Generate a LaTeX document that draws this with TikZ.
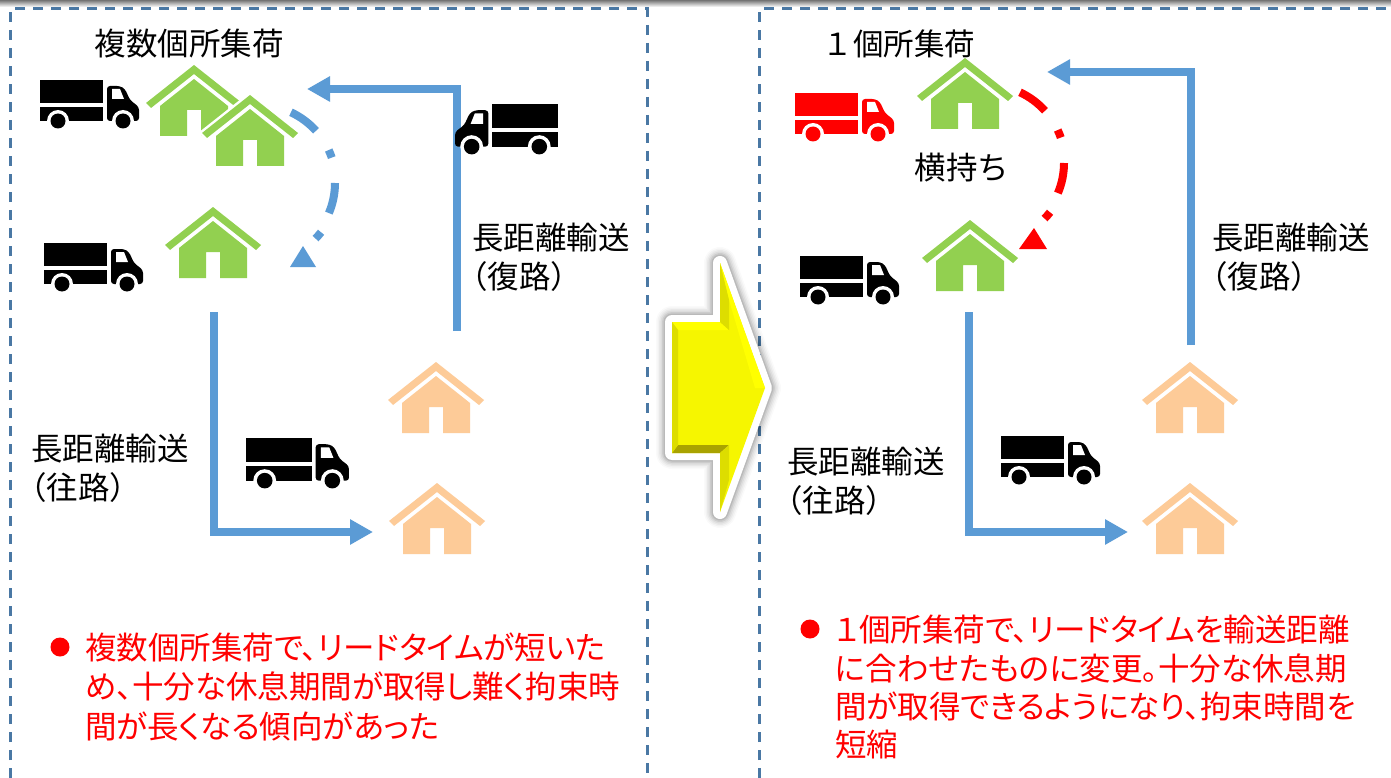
\documentclass[tikz,border=0pt]{standalone}
\usepackage{fontspec}
\setmainfont{Noto Sans CJK JP}
\newfontfamily\propfont[RawFeature=+palt]{Noto Sans CJK JP}
\usetikzlibrary{arrows.meta,calc}
\definecolor{hgreen}{HTML}{92D050}
\definecolor{hpeach}{HTML}{FDCB98}
\definecolor{lblue}{HTML}{5B9BD5}
\definecolor{boxblue}{HTML}{4A78A4}
\definecolor{ayface}{HTML}{F6F600}
\definecolor{aytop}{HTML}{FFFF00}
\definecolor{ayleft}{HTML}{DDDD00}
\definecolor{aybottom}{HTML}{A9A300}
\tikzset{
  x=1pt,y=-1pt,
  framebox/.style={draw=boxblue,line width=3pt,dash pattern=on 10pt off 8pt},
  route/.style={draw=lblue,line width=8pt,-{Triangle[length=23pt,width=24pt]}},
  swing/.style={line width=8pt},
  bigtext/.style={inner sep=0pt,font=\fontsize{31.5}{39}\selectfont,text=black,align=left},
  redtext/.style={inner sep=0pt,anchor=west,font=\propfont\fontsize{31.5}{38}\selectfont,text=red},
  pics/truck/.style={code={
    \fill[#1] (0,0) rectangle (63,23);
    \fill[#1] (0,27) rectangle (63,41);
    \fill[#1,rounded corners=3pt] (67,41) -- (67,6) -- (80,6) -- (85,9) -- (90,20) -- (99,27) -- (99,41) -- cycle;
    \fill[white] (72,9) -- (80,9) -- (84,19) -- (72,19) -- cycle;
    \fill[white] (18,41) circle (11);
    \fill[white] (83,41) circle (11);
    \fill[#1] (18,41) circle (7.5);
    \fill[#1] (83,41) circle (7.5);
  }},
  pics/house/.style={code={
    \fill[#1] (0,0) -- (48,38) -- (43,43) -- (0,9) -- (-43,43) -- (-48,38) -- cycle;
    \fill[#1,even odd rule] (0,14) -- (34,41) -- (34,71) -- (7,71) -- (7,45) -- (-7,45) -- (-7,71) -- (-34,71) -- (-34,41) -- cycle;
  }},
  pics/househalo/.style={code={
    \fill[white,draw=white,line width=5pt,line join=round] (0,0) -- (48,38) -- (34,50) -- (34,71) -- (-34,71) -- (-34,50) -- (-48,38) -- cycle;
  }},
}
\begin{document}
\begin{tikzpicture}
\useasboundingbox (0,0) rectangle (1391,778);
\fill[white] (0,0) rectangle (1391,778);
\shade[top color=black!55,bottom color=white] (0,0) rectangle (1391,7);

% frames
\coordinate (fa) at (10,778); \coordinate (fb) at (10,9); \coordinate (fc) at (647,9); \coordinate (fd) at (647,778);
\coordinate (ga) at (759,778); \coordinate (gb) at (759,9); \coordinate (gc) at (1391,9);
\draw[framebox] (fa) -- (fb) -- (fc) -- (fd);
\draw[framebox] (ga) -- (gb) -- (gc);

% houses left
\pic at (194,65) {house=hgreen};
\pic at (250,95) {househalo};
\pic at (250,95) {house=hgreen};
\pic at (213,207) {house=hgreen};
\pic at (436,362) {house=hpeach};
\pic at (437,483) {house=hpeach};
% houses right
\pic at (965,58) {house=hgreen};
\pic at (970,220) {house=hgreen};
\pic at (1190,362) {house=hpeach};
\pic at (1190,483) {house=hpeach};

% routes
\coordinate (r1a) at (457,331); \coordinate (r1b) at (457,89); \coordinate (r1c) at (307,89);
\draw[route] (r1a) -- (r1b) -- (r1c);
\coordinate (r2a) at (214,312); \coordinate (r2b) at (214,532); \coordinate (r2c) at (373,532);
\draw[route] (r2a) -- (r2b) -- (r2c);
\coordinate (r3a) at (1191,345); \coordinate (r3b) at (1191,72); \coordinate (r3c) at (1047,72);
\draw[route] (r3a) -- (r3b) -- (r3c);
\coordinate (r4a) at (969,312); \coordinate (r4b) at (969,532); \coordinate (r4c) at (1128,532);
\draw[route] (r4a) -- (r4b) -- (r4c);

% trucks
\pic at (40,80) {truck=black};
\pic at (44,243) {truck=black};
\pic[xscale=-1.04,yscale=1.04] at (558,104) {truck=black};
\pic[scale=1.04] at (246,438) {truck=black};
\pic at (795,93) {truck=red};
\pic at (800,256) {truck=black};
\pic at (1001,436) {truck=black};

% dash-dot swing, left
\coordinate (sl) at (258,183);
\draw[swing,lblue] ($(sl)+(-65:78)$) arc[start angle=-65,end angle=-42,radius=78];
\draw[swing,lblue] ($(sl)+(-25:78)$) arc[start angle=-25,end angle=-19,radius=78];
\draw[swing,lblue] ($(sl)+(0:77)$) arc[start angle=0,end angle=23,radius=77];
\draw[swing,lblue] ($(sl)+(38:80)$) arc[start angle=38,end angle=44,radius=80];
\fill[lblue] (303,246) -- (316,267) -- (290,267) -- cycle;
% dash-dot swing, right
\coordinate (sr) at (987,163);
\draw[swing,red] ($(sr)+(-65:78)$) arc[start angle=-65,end angle=-42,radius=78];
\draw[swing,red] ($(sr)+(-25:78)$) arc[start angle=-25,end angle=-19,radius=78];
\draw[swing,red] ($(sr)+(0:77)$) arc[start angle=0,end angle=23,radius=77];
\draw[swing,red] ($(sr)+(38:80)$) arc[start angle=38,end angle=44,radius=80];
\fill[red] (1034,228) -- (1047,249) -- (1019,249) -- cycle;

% big arrow
\def\bigarrow{(672,322) -- (720,322) -- (720,263) -- (765,388) -- (720,512) -- (720,453) -- (672,453) -- cycle}
\foreach \w/\o in {32/0.02,29/0.03,26/0.04,23/0.05,20/0.07,17/0.09}{
  \draw[black,opacity=\o,line width=\w pt,line join=round] \bigarrow;
}
\draw[white,line width=14pt,line join=round] \bigarrow;
\fill[ayface] \bigarrow;
\fill[aytop] (672,322) -- (720,322) -- (729,330) -- (678,330) -- cycle;
\fill[aytop] (720,263) -- (765,388) -- (755,388) -- (729,300) -- cycle;
\fill[aybottom] (672,453) -- (720,453) -- (729,445) -- (678,445) -- cycle;
\fill[ayleft] (672,322) -- (678,330) -- (678,445) -- (672,453) -- cycle;
\fill[ayleft] (720,263) -- (729,300) -- (729,330) -- (720,322) -- cycle;
\fill[ayleft] (720,512) -- (729,480) -- (729,445) -- (720,453) -- cycle;

% labels
\node[bigtext] (t1) at (189,44) {複数個所集荷};
\node[bigtext,font=\fontsize{30.5}{39}\selectfont] (t2) at (899,44) {１個所集荷};
\node[bigtext] (t3) at (962,168) {横持ち};
\node[bigtext,anchor=west] (t4) at (472,257) {長距離輸送\\\hspace*{-0.5em}（復路）};
\node[bigtext,anchor=west] (t5) at (31,468) {長距離輸送\\\hspace*{-0.5em}（往路）};
\node[bigtext,anchor=west] (t6) at (787,481) {長距離輸送\\\hspace*{-0.5em}（往路）};
\node[bigtext,anchor=west] (t7) at (1212,257) {長距離輸送\\\hspace*{-0.5em}（復路）};

% bullets
\fill[red] (60,647) circle (9.5);
\fill[red] (810,629) circle (9.5);
\node[redtext] (a1) at (85,647) {複数個所集荷で、リードタイムが短いた};
\node[redtext] (a2) at (85,686) {め、十分な休息期間が取得し難く拘束時};
\node[redtext] (a3) at (85,726) {間が長くなる傾向があった};
\node[redtext] (b1) at (835,630) {１個所集荷で、リードタイムを輸送距離};
\node[redtext] (b2) at (835,668) {に合わせたものに変更。十分な休息期};
\node[redtext] (b3) at (835,706) {間が取得できるようになり、拘束時間を};
\node[redtext] (b4) at (835,744) {短縮};
\end{tikzpicture}
\end{document}
